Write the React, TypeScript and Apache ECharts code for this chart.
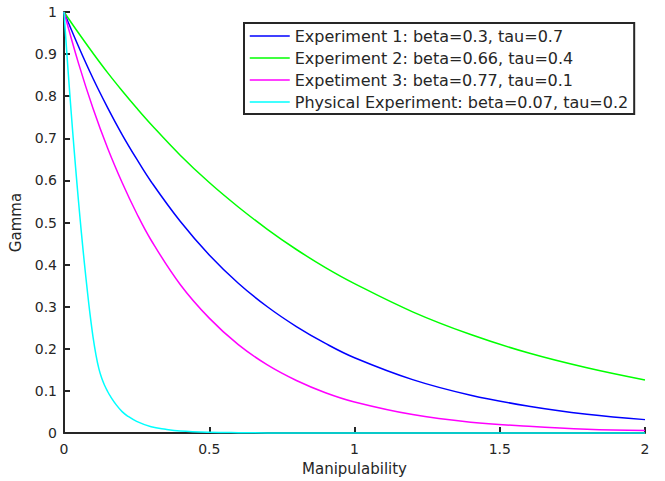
import React, { useEffect, useRef } from "react";
import * as echarts from "echarts";

// Sampled Gamma curves against Manipulability
const xMain = [0, 0.05, 0.1, 0.15, 0.2, 0.25, 0.3, 0.4, 0.5, 0.6, 0.7, 0.8, 0.9, 1.0, 1.2, 1.4, 1.6, 1.8, 2.0];
const exp1 = [1, 0.918, 0.842, 0.773, 0.709, 0.651, 0.597, 0.503, 0.423, 0.356, 0.3, 0.253, 0.213, 0.179, 0.127, 0.09, 0.064, 0.045, 0.032];
const exp2 = [1, 0.95, 0.902, 0.856, 0.813, 0.772, 0.733, 0.66, 0.595, 0.537, 0.484, 0.436, 0.393, 0.355, 0.288, 0.234, 0.19, 0.155, 0.126];
const exp3 = [1, 0.878, 0.771, 0.677, 0.595, 0.522, 0.458, 0.353, 0.273, 0.21, 0.162, 0.125, 0.096, 0.074, 0.044, 0.026, 0.016, 0.009, 0.006];

const xPhys = [0, 0.01, 0.02, 0.03, 0.04, 0.05, 0.06, 0.07, 0.08, 0.09, 0.1, 0.11, 0.12, 0.13, 0.14, 0.15, 0.16, 0.18, 0.2, 0.22, 0.25, 0.3, 0.35, 0.4, 0.5, 0.6, 0.8, 1.0, 1.5, 2.0];
const phys = [1, 0.9, 0.805, 0.715, 0.63, 0.55, 0.475, 0.405, 0.34, 0.28, 0.228, 0.186, 0.153, 0.13, 0.113, 0.099, 0.087, 0.067, 0.051, 0.04, 0.028, 0.015, 0.009, 0.005, 0.002, 0.001, 0, 0, 0, 0];

const names = [
  "Experiment 1: beta=0.3, tau=0.7",
  "Experiment 2: beta=0.66, tau=0.4",
  "Expetiment 3: beta=0.77, tau=0.1",
  "Physical Experiment: beta=0.07, tau=0.2",
];
const colors = ["#0000ff", "#00ff00", "#ff00ff", "#00ffff"];

const xTicks = [0, 0.5, 1, 1.5, 2];

const pairs = (xs: number[], ys: number[]) => xs.map((x, i) => [x, ys[i]]);

const FONT = "DejaVu Sans";
const INK = "#262626";

export default function App() {
  const ref = useRef<HTMLDivElement>(null);

  useEffect(() => {
    document.body.style.margin = "0";
    if (!ref.current) return;
    const chart = echarts.init(ref.current, undefined, { renderer: "svg" });
    const seriesData = [
      pairs(xMain, exp1),
      pairs(xMain, exp2),
      pairs(xMain, exp3),
      pairs(xPhys, phys),
    ];
    chart.setOption({
      animation: false,
      backgroundColor: "#ffffff",
      grid: { left: 64, right: 20, top: 12, bottom: 47 },
      legend: {
        orient: "vertical",
        left: 244,
        top: 23,
        padding: [5, 6, 4, 5],
        itemGap: 6,
        itemWidth: 40,
        itemHeight: 14,
        backgroundColor: "#ffffff",
        borderColor: INK,
        borderWidth: 2,
        borderRadius: 0,
        itemStyle: { opacity: 0 },
        lineStyle: { width: 1.5 },
        textStyle: { fontFamily: FONT, fontSize: 16, color: INK, lineHeight: 14 },
        data: names,
      },
      xAxis: {
        type: "value",
        min: xTicks[0],
        max: xTicks[xTicks.length - 1],
        interval: 0.5,
        name: "Manipulability",
        nameLocation: "middle",
        nameGap: 26,
        nameTextStyle: { fontFamily: FONT, fontSize: 15, color: INK },
        axisLine: { show: true, lineStyle: { color: INK, width: 2 } },
        axisTick: { show: true, inside: true, length: 6, lineStyle: { color: INK, width: 2 } },
        axisLabel: { fontFamily: FONT, fontSize: 14, color: INK, margin: 9 },
        splitLine: { show: false },
      },
      yAxis: {
        type: "value",
        min: 0,
        max: 1,
        interval: 0.1,
        name: "Gamma",
        nameLocation: "middle",
        nameGap: 33,
        nameTextStyle: { fontFamily: FONT, fontSize: 15, color: INK },
        axisLine: { show: true, lineStyle: { color: INK, width: 2 } },
        axisTick: { show: true, inside: true, length: 6, lineStyle: { color: INK, width: 2 } },
        axisLabel: { fontFamily: FONT, fontSize: 14, color: INK, margin: 7 },
        splitLine: { show: false },
      },
      series: names.map((name, i) => ({
        name,
        type: "line",
        data: seriesData[i],
        symbol: "none",
        smooth: 0.4,
        clip: false,
        color: colors[i],
        lineStyle: { color: colors[i], width: 1.5 },
      })),
    });
    return () => chart.dispose();
  }, []);

  return <div ref={ref} style={{ width: 665, height: 481 }} />;
}
